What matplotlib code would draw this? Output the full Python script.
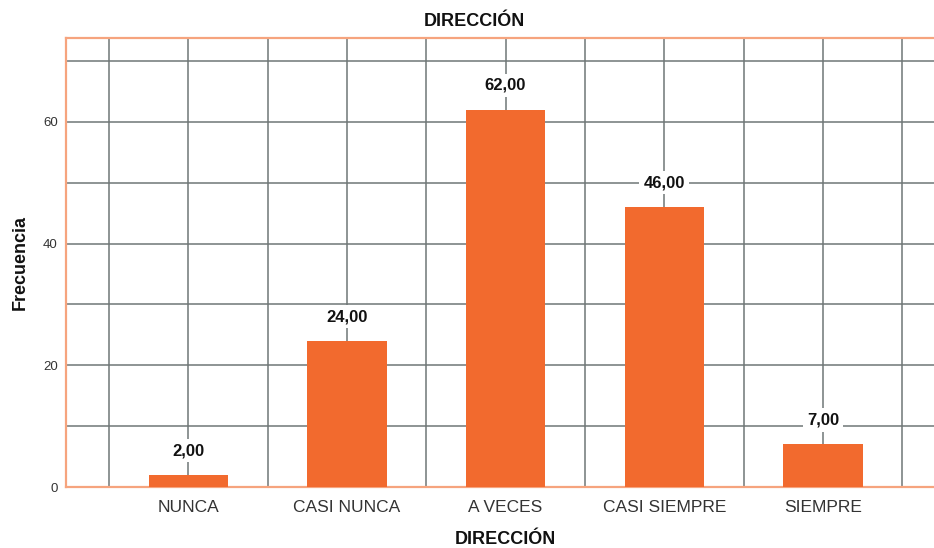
import matplotlib
matplotlib.use("Agg")
import matplotlib.pyplot as plt
import numpy as np

categorias = ["NUNCA", "CASI NUNCA", "A VECES", "CASI SIEMPRE", "SIEMPRE"]
frecuencias = [2, 24, 62, 46, 7]
etiquetas = ["2,00", "24,00", "62,00", "46,00", "7,00"]

plt.rcParams['font.family'] = ['Liberation Sans', 'DejaVu Sans']

naranja = '#F26A2E'
borde = '#F6A47E'
rejilla = '#6F7676'

fig = plt.figure(figsize=(9.34, 5.48), dpi=100)
ax = fig.add_axes([66 / 934, 1 - 487 / 548, 1 - 66 / 934, (487 - 38) / 548])

x = np.arange(len(categorias))
ax.bar(x, frecuencias, width=0.5, color=naranja, zorder=3)

ax.set_xlim(-0.77, 4.70)
ax.set_ylim(0, 73.8)
ax.set_yticks([0, 20, 40, 60])
ax.set_yticks([10, 30, 50, 70], minor=True)
ax.set_xticks(x)
ax.set_xticks(np.arange(-0.5, 4.6, 1.0), minor=True)
ax.set_xticklabels(categorias, fontsize=12.5, color='#333333')
ax.tick_params(axis='y', labelsize=9.5, labelcolor='#333333', length=0, pad=6)
ax.tick_params(axis='x', length=0, pad=9)
ax.tick_params(which='minor', length=0)

ax.grid(True, which='both', color=rejilla, linewidth=1.1, zorder=0)
ax.set_axisbelow(True)

for s in ['left', 'top', 'bottom']:
    ax.spines[s].set_color(borde)
    ax.spines[s].set_linewidth(1.6)
ax.spines['right'].set_visible(False)

for xi, v, t in zip(x, frecuencias, etiquetas):
    ax.annotate(t, (xi, v), xytext=(0, 17.5), textcoords='offset points',
                ha='center', va='center', fontsize=12, fontweight='bold',
                color='#111111', zorder=4,
                bbox=dict(boxstyle='square,pad=0.25', fc='white', ec='none'))

fig.text(474 / 934, 1 - 22 / 548, "DIRECCIÓN", ha='center', va='center',
         fontsize=13, fontweight='bold', color='#111111')
fig.text(505 / 934, 1 - 540 / 548, "DIRECCIÓN", ha='center', va='center',
         fontsize=13, fontweight='bold', color='#111111')
fig.text(20 / 934, 1 - 262 / 548, "Frecuencia", ha='center', va='center', rotation=90,
         fontsize=13, fontweight='bold', color='#111111')

fig.savefig("out.png", dpi=100)
